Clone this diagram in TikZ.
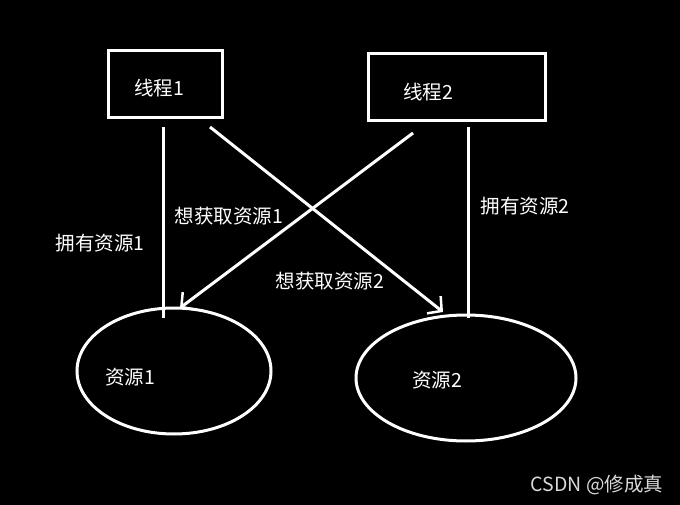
\documentclass[tikz,border=0pt]{standalone}
\usepackage{fontspec}
\setmainfont{Noto Sans CJK SC}
\usetikzlibrary{shapes.geometric,arrows.meta}
\begin{document}
\begin{tikzpicture}[x=1pt,y=-1pt,
  wline/.style={draw=white,line width=3pt},
  lbl/.style={text=white,font=\fontsize{19.5}{22}\selectfont,inner sep=0pt},
  arr/.style={wline,-{Straight Barb[length=10pt,width=22pt,line width=2.5pt]}}]
\fill[black] (0,0) rectangle (680,505);
\useasboundingbox (0,0) rectangle (680,505);
\node[wline,rectangle,minimum width=114pt,minimum height=67pt] (t1) at (165,84) {};
\node[wline,rectangle,minimum width=177pt,minimum height=67pt] (t2) at (457,87) {};
\node[wline,ellipse,minimum width=194pt,minimum height=126pt] (r1) at (174,371) {};
\node[wline,ellipse,minimum width=220pt,minimum height=126pt] (r2) at (466,378) {};
\node[lbl] at (159,88) {线程1};
\node[lbl] at (428,92) {线程2};
\node[lbl] at (130,377) {资源1};
\node[lbl] at (437,380) {资源2};
\coordinate (a1) at (163,127); \coordinate (a2) at (163,318);
\coordinate (b1) at (468,127); \coordinate (b2) at (468,318);
\coordinate (c1) at (210,127); \coordinate (c2) at (443,312);
\coordinate (d1) at (413,133); \coordinate (d2) at (180,308);
\draw[wline] (a1) -- (a2);
\draw[wline] (b1) -- (b2);
\draw[arr] (c1) -- (c2);
\draw[arr] (d1) -- (d2);
\node[lbl] at (229,216) {想获取资源1};
\node[lbl] at (100,243) {拥有资源1};
\node[lbl] at (525,206) {拥有资源2};
\node[lbl] at (330,281) {想获取资源2};
\node[lbl,text=white!85!black] at (597,485) {CSDN @修成真};
\end{tikzpicture}
\end{document}
